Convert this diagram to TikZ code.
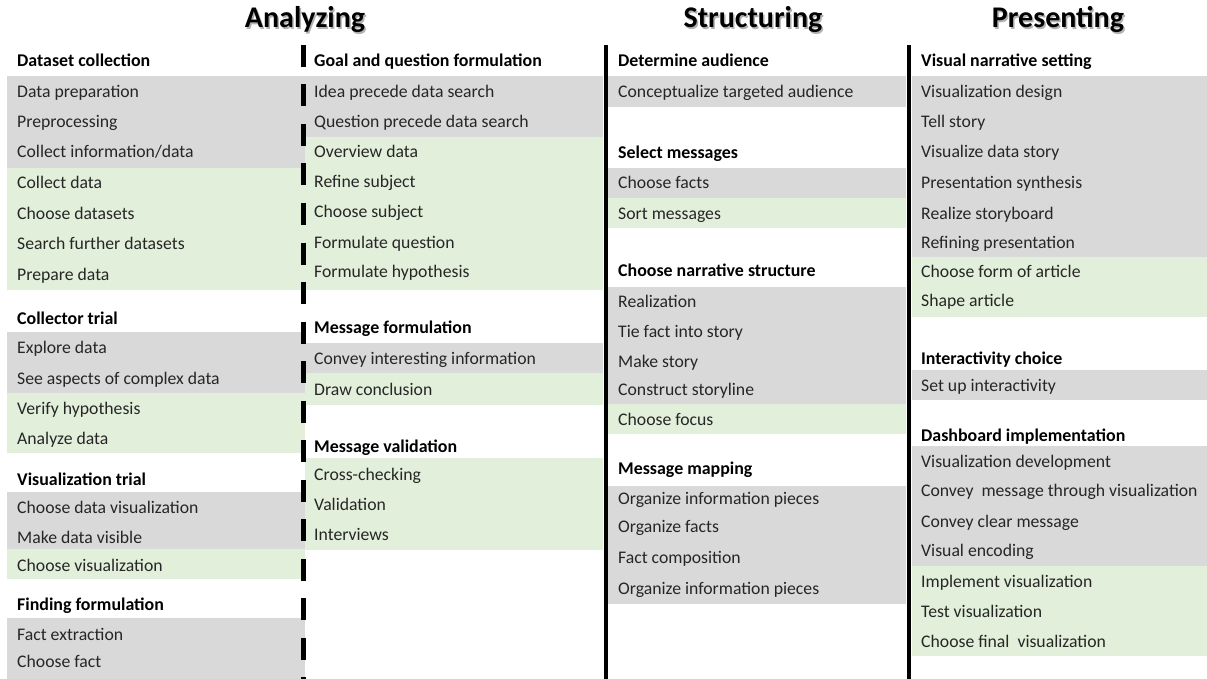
\documentclass[tikz,border=0pt]{standalone}
\usepackage{fontspec}
\setmainfont{Carlito}
\definecolor{bandgray}{HTML}{D9D9D9}
\definecolor{bandgreen}{HTML}{E2EFDA}
\definecolor{itemtext}{HTML}{262626}
\tikzset{
 item/.style={anchor=base west, inner sep=0pt, font=\fontsize{17.7}{20}\selectfont, text=itemtext},
 head/.style={anchor=base west, inner sep=0pt, font=\fontsize{17.9}{20}\selectfont\bfseries, text=black},
 title/.style={anchor=base, inner sep=0pt, font=\fontsize{30}{36}\selectfont\bfseries, text=black},
 shadowtitle/.style={anchor=base, inner sep=0pt, font=\fontsize{30}{36}\selectfont\bfseries, text=black!30},
 gb/.style={fill=bandgray},
 gn/.style={fill=bandgreen},
 sepline/.style={line width=4pt, black},
 dsepline/.style={line width=5pt, black, dash pattern=on 22pt off 17.5pt}
}
\newcommand\itm[4]{\node[item] (#3) at (#1,#2+6) {#4};}
\newcommand\hdr[4]{\node[head] (#3) at (#1,#2+6) {#4};}
\begin{document}
\begin{tikzpicture}[x=1pt,y=-1pt]
\useasboundingbox (0,0) rectangle (1207,679);
% titles
\node[shadowtitle] (tAs) at (306.5,29.5) {Analyzing};
\node[title] (tA) at (305,28) {Analyzing};
\node[shadowtitle] (tSs) at (754.5,29.5) {Structuring};
\node[title] (tS) at (753,28) {Structuring};
\node[shadowtitle] (tPs) at (1059.5,29.5) {Presenting};
\node[title] (tP) at (1058,28) {Presenting};
% ---------- bands column 1
\fill[gb] (7,76) rectangle (305,168);
\fill[gn] (7,168) rectangle (305,290);
\fill[gb] (7,332) rectangle (305,393);
\fill[gn] (7,393) rectangle (305,453);
\fill[gb] (7,492) rectangle (305,549);
\fill[gn] (7,549) rectangle (305,579);
\fill[gb] (7,618) rectangle (305,679);
% ---------- bands column 2
\fill[gb] (305,76) rectangle (603,137);
\fill[gn] (305,137) rectangle (603,290);
\fill[gb] (305,343) rectangle (603,373);
\fill[gn] (305,373) rectangle (603,405);
\fill[gn] (305,458) rectangle (603,550);
% ---------- bands column 3
\fill[gb] (608,76) rectangle (906,107);
\fill[gb] (608,168) rectangle (906,198);
\fill[gn] (608,198) rectangle (906,228);
\fill[gb] (608,287) rectangle (906,404);
\fill[gn] (608,404) rectangle (906,434);
\fill[gb] (608,486) rectangle (906,604);
% ---------- bands column 4
\fill[gb] (912,76) rectangle (1207,257);
\fill[gn] (912,257) rectangle (1207,317);
\fill[gb] (912,370) rectangle (1207,400);
\fill[gb] (912,446) rectangle (1207,566);
\fill[gn] (912,566) rectangle (1207,656);
% ---------- separators
\coordinate (d1) at (303,45);
\coordinate (d2) at (303,679);
\draw[dsepline] (d1) -- (d2);
\coordinate (s1) at (606,45);
\coordinate (s2) at (606,679);
\draw[sepline] (s1) -- (s2);
\coordinate (p1) at (909,45);
\coordinate (p2) at (909,679);
\draw[sepline] (p1) -- (p2);
% ---------- column 1 texts
\hdr{17}{61}{a1h}{Dataset collection}
\itm{17}{92}{a1a}{Data preparation}
\itm{17}{122}{a1b}{Preprocessing}
\itm{17}{152}{a1c}{Collect information/data}
\itm{17}{183}{a1d}{Collect data}
\itm{17}{213}{a1e}{Choose datasets}
\itm{17}{243}{a1f}{Search further datasets}
\itm{17}{274}{a1g}{Prepare data}
\hdr{17}{318}{a2h}{Collector trial}
\itm{17}{347}{a2a}{Explore data}
\itm{17}{378}{a2b}{See aspects of complex data}
\itm{17}{408}{a2c}{Verify hypothesis}
\itm{17}{438}{a2d}{Analyze data}
\hdr{17}{479}{a3h}{Visualization trial}
\itm{17}{507}{a3a}{Choose data visualization}
\itm{17}{537}{a3b}{Make data visible}
\itm{17}{565}{a3c}{Choose visualization}
\hdr{17}{604}{a4h}{Finding formulation}
\itm{17}{634}{a4a}{Fact extraction}
\itm{17}{661}{a4b}{Choose fact}
% ---------- column 2 texts
\hdr{314}{61}{b1h}{Goal and question formulation}
\itm{314}{92}{b1a}{Idea precede data search}
\itm{314}{122}{b1b}{Question precede data search}
\itm{314}{152}{b1c}{Overview data}
\itm{314}{182}{b1d}{Refine subject}
\itm{314}{212}{b1e}{Choose subject}
\itm{314}{242}{b1f}{Formulate question}
\itm{314}{271}{b1g}{Formulate hypothesis}
\hdr{314}{327}{b2h}{Message formulation}
\itm{314}{358}{b2a}{Convey interesting information}
\itm{314}{389}{b2b}{Draw conclusion}
\hdr{314}{446}{b3h}{Message validation}
\itm{314}{474}{b3a}{Cross-checking}
\itm{314}{504}{b3b}{Validation}
\itm{314}{534}{b3c}{Interviews}
% ---------- column 3 texts
\hdr{618}{61}{c1h}{Determine audience}
\itm{618}{92}{c1a}{Conceptualize targeted audience}
\hdr{618}{153}{c2h}{Select messages}
\itm{618}{183}{c2a}{Choose facts}
\itm{618}{213}{c2b}{Sort messages}
\hdr{618}{270}{c3h}{Choose narrative structure}
\itm{618}{301}{c3a}{Realization}
\itm{618}{331}{c3b}{Tie fact into story}
\itm{618}{361}{c3c}{Make story}
\itm{618}{389}{c3d}{Construct storyline}
\itm{618}{419}{c3e}{Choose focus}
\hdr{618}{468}{c4h}{Message mapping}
\itm{618}{498}{c4a}{Organize information pieces}
\itm{618}{526}{c4b}{Organize facts}
\itm{618}{557}{c4c}{Fact composition}
\itm{618}{588}{c4d}{Organize information pieces}
% ---------- column 4 texts
\hdr{921}{61}{e1h}{Visual narrative setting}
\itm{921}{92}{e1a}{Visualization design}
\itm{921}{122}{e1b}{Tell story}
\itm{921}{152}{e1c}{Visualize data story}
\itm{921}{183}{e1d}{Presentation synthesis}
\itm{921}{213}{e1e}{Realize storyboard}
\itm{921}{242}{e1f}{Refining presentation}
\itm{921}{271}{e1g}{Choose form of article}
\itm{921}{300}{e1i}{Shape article}
\hdr{921}{358}{e2h}{Interactivity choice}
\itm{921}{385}{e2a}{Set up interactivity}
\hdr{921}{435}{e3h}{Dashboard implementation}
\itm{921}{461}{e3a}{Visualization development}
\itm{921}{490}{e3b}{Convey\ \ message through visualization}
\itm{921}{521}{e3c}{Convey clear message}
\itm{921}{550}{e3d}{Visual encoding}
\itm{921}{581}{e3e}{Implement visualization}
\itm{921}{611}{e3f}{Test visualization}
\itm{921}{641}{e3g}{Choose final\ \ visualization}
\end{tikzpicture}
\end{document}
